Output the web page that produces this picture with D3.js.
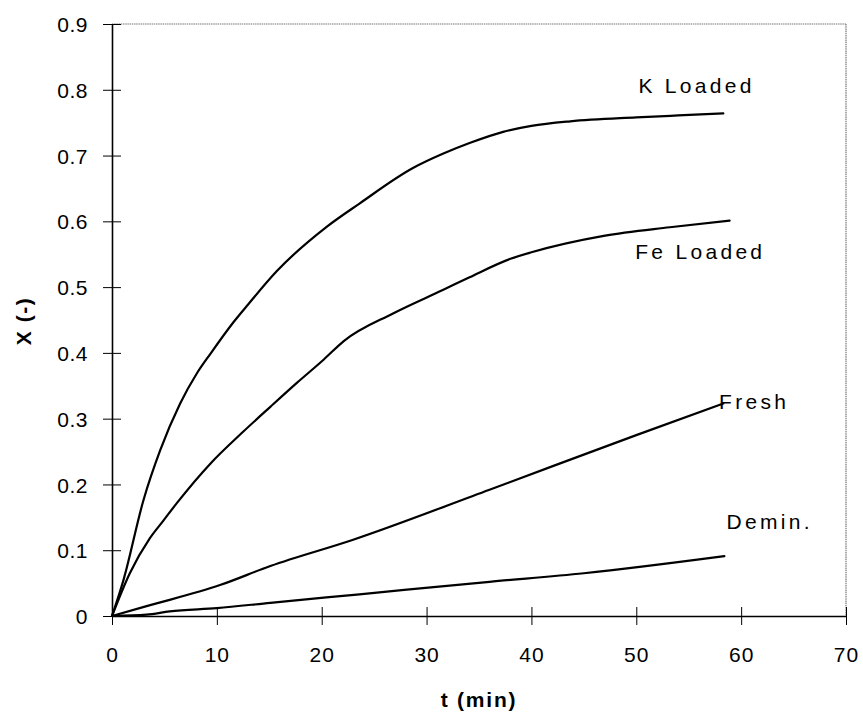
<!DOCTYPE html>
<html>
<head>
<meta charset="utf-8">
<script src="https://cdn.jsdelivr.net/npm/d3@7"></script>
<style>
  html, body { margin: 0; padding: 0; background: #fff; }
  svg { display: block; font-family: "Liberation Sans", Arial, sans-serif; }
</style>
</head>
<body>
<svg id="chart" width="863" height="712"></svg>
<script>
// ---- data ----
const kLoadedT = [0, 1.1, 3.0, 4.6, 6.5, 8.1, 9.4, 11.6, 13.0, 15.7, 20.5, 23.6, 28.7, 31.6, 34.1, 37.3, 40, 43.7, 50, 54, 58.3];
const kLoadedX = [0, 0.055, 0.176, 0.252, 0.323, 0.369, 0.399, 0.447, 0.474, 0.524, 0.592, 0.627, 0.681, 0.703, 0.719, 0.736, 0.745, 0.752, 0.758, 0.761, 0.764];
const feLoadedT = [0, 1.7, 3.6, 4.9, 6.2, 9.4, 12.5, 15.1, 17.6, 20.2, 22.1, 26.8, 31.6, 34.1, 38, 40, 46.9, 53.2, 58.9];
const feLoadedX = [0, 0.065, 0.118, 0.145, 0.172, 0.232, 0.280, 0.318, 0.354, 0.390, 0.418, 0.460, 0.496, 0.515, 0.543, 0.553, 0.578, 0.591, 0.601];
const freshT = [0, 3.3, 10.3, 15.1, 23.0, 36.0, 50, 58.3];
const freshX = [0, 0.015, 0.047, 0.076, 0.116, 0.192, 0.275, 0.323];
const deminT = [0, 3.3, 5.5, 10, 15.1, 23.6, 36.0, 45, 58.4];
const deminX = [0, 0.002, 0.007, 0.012, 0.02, 0.033, 0.052, 0.065, 0.091];

const seriesNames = ["K Loaded", "Fe Loaded", "Fresh", "Demin."];
// label anchor points in data units (t, X)
const labelT = [50.2, 49.9, 57.9, 58.6];
const labelX = [0.795, 0.543, 0.314, 0.132];

const xTicks = [0, 10, 20, 30, 40, 50, 60, 70];
const yTicks = [0, 0.1, 0.2, 0.3, 0.4, 0.5, 0.6, 0.7, 0.8, 0.9];
const xTitle = "t (min)";
const yTitle = "X (-)";

// ---- layout ----
const mLeft = 112, mRight = 846, mTop = 24, mBottom = 616;
const svg = d3.select("#chart");
const x = d3.scaleLinear().domain([0, 70]).range([mLeft, mRight]);
const y = d3.scaleLinear().domain([0, 0.9]).range([mBottom, mTop]);

// frame (top & right light, dotted look)
svg.append("line").attr("x1", mLeft).attr("x2", mRight).attr("y1", mTop).attr("y2", mTop)
  .attr("stroke", "#777").attr("stroke-width", 1.2).attr("stroke-dasharray", "1.5,0.7");
svg.append("line").attr("x1", mRight).attr("x2", mRight).attr("y1", mTop).attr("y2", mBottom)
  .attr("stroke", "#777").attr("stroke-width", 1.2).attr("stroke-dasharray", "1.5,0.7");

// x axis
const gx = svg.append("g").attr("transform", `translate(0,${mBottom})`)
  .call(d3.axisBottom(x).tickValues(xTicks).tickFormat(d3.format("d")).tickSizeOuter(0));
gx.select(".domain").attr("stroke", "#000").attr("stroke-width", 1.6);
gx.selectAll(".tick line").attr("y1", -9).attr("y2", 9).attr("stroke", "#000").attr("stroke-width", 1);
gx.selectAll(".tick text").attr("y", 45.5).attr("dy", 0)
  .attr("font-size", 21).attr("letter-spacing", "1px").attr("fill", "#000")
  .attr("font-family", "Liberation Sans, Arial, sans-serif");

// y axis
const gy = svg.append("g").attr("transform", `translate(${mLeft},0)`)
  .call(d3.axisLeft(y).tickValues(yTicks).tickFormat(d => d === 0 ? "0" : d3.format(".1f")(d)).tickSizeOuter(0));
gy.select(".domain").attr("stroke", "#000").attr("stroke-width", 1.6);
gy.selectAll(".tick line").attr("x1", -9).attr("x2", 9).attr("stroke", "#000").attr("stroke-width", 1);
gy.selectAll(".tick text").attr("x", -24).attr("dy", "0.36em")
  .attr("font-size", 21).attr("letter-spacing", "0.5px").attr("fill", "#000")
  .attr("font-family", "Liberation Sans, Arial, sans-serif");

// axis titles
svg.append("text").attr("x", (x(30) + x(40)) / 2).attr("y", 707)
  .attr("text-anchor", "middle").attr("font-size", 21).attr("font-weight", "bold")
  .attr("letter-spacing", "1.8px").text(xTitle);
svg.append("text").attr("transform", "translate(31,321) rotate(-90)")
  .attr("text-anchor", "middle").attr("font-size", 21).attr("font-weight", "bold")
  .attr("letter-spacing", "1.5px").text(yTitle);

// curves
const seriesT = [kLoadedT, feLoadedT, freshT, deminT];
const seriesX = [kLoadedX, feLoadedX, freshX, deminX];
const line = d3.line().x(d => x(d[0])).y(d => y(d[1])).curve(d3.curveMonotoneX);
seriesT.forEach((ts, i) => {
  const pts = ts.map((t, j) => [t, seriesX[i][j]]);
  svg.append("path").datum(pts).attr("d", line)
    .attr("fill", "none").attr("stroke", "#000").attr("stroke-width", 2.2)
    .attr("stroke-linejoin", "round").attr("stroke-linecap", "round");
});

// series labels
seriesNames.forEach((name, i) => {
  svg.append("text").attr("x", x(labelT[i])).attr("y", y(labelX[i]))
    .attr("font-size", 21).attr("letter-spacing", "3.3px").attr("fill", "#000")
    .text(name);
});
</script>
</body>
</html>
